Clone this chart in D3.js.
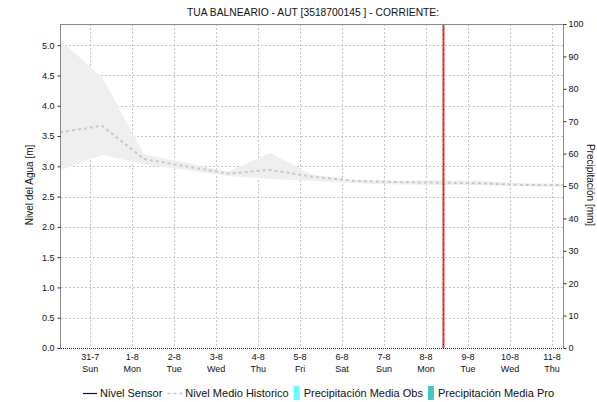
<!DOCTYPE html>
<html><head><meta charset="utf-8">
<script src="https://cdn.jsdelivr.net/npm/d3@7"></script>
<style>
html,body{margin:0;padding:0;background:#fff;overflow:hidden}
svg{display:block;font-family:"Liberation Sans",Arial,sans-serif}
</style></head><body>
<script>
// ---- data ----
const title = "TUA BALNEARIO - AUT [3518700145 ] - CORRIENTE:";
const pointTimes = ["2022-07-30T06:30","2022-07-31T06:30","2022-08-01T06:30","2022-08-02T06:30","2022-08-03T06:30","2022-08-04T06:30","2022-08-05T06:30","2022-08-06T06:30","2022-08-07T06:30","2022-08-08T06:30","2022-08-09T06:30","2022-08-10T06:30","2022-08-11T06:30"];
const nivelMedio = [3.56,3.67,3.12,3.00,2.88,2.94,2.83,2.76,2.74,2.73,2.72,2.69,2.69];
const nivelMax   = [5.08,4.47,3.20,3.06,2.91,3.22,2.86,2.78,2.76,2.77,2.76,2.72,2.71];
const nivelMin   = [2.93,3.19,3.03,2.94,2.84,2.79,2.76,2.72,2.70,2.69,2.69,2.67,2.66];
const dayTicks = ["2022-07-31","2022-08-01","2022-08-02","2022-08-03","2022-08-04","2022-08-05","2022-08-06","2022-08-07","2022-08-08","2022-08-09","2022-08-10","2022-08-11"];
const dayLabels = ["31-7","1-8","2-8","3-8","4-8","5-8","6-8","7-8","8-8","9-8","10-8","11-8"];
const weekdayLabels = ["Sun","Mon","Tue","Wed","Thu","Fri","Sat","Sun","Mon","Tue","Wed","Thu"];
const levelTicks = [0,0.5,1,1.5,2,2.5,3,3.5,4,4.5,5];
const precipTicks = [0,10,20,30,40,50,60,70,80,90,100];
const nowTime = "2022-08-08T09:40";
const xDomain = ["2022-07-30T07:00","2022-08-11T06:00"];
const levelDomain = [0,5.35];
const precipDomain = [0,100];
const legendItems = ["Nivel Sensor","Nivel Medio Historico","Precipitación Media Obs","Precipitación Media Pro"];

const W=597,H=402;
const m={l:61,r:563,t:24,b:348};
const svg=d3.select("body").append("svg").attr("width",W).attr("height",H);
const parse=s=>new Date(s);
const x=d3.scaleTime().domain(xDomain.map(parse)).range([m.l,m.r]);
const y=d3.scaleLinear().domain(levelDomain).range([m.b,m.t]);
const y2=d3.scaleLinear().domain(precipDomain).range([m.b,m.t]);

svg.append("defs").append("clipPath").attr("id","clip").append("rect")
  .attr("x",m.l).attr("y",m.t).attr("width",m.r-m.l).attr("height",m.b-m.t);

// grid
const grid=svg.append("g").attr("stroke","#c4c4c4").attr("stroke-dasharray","2,2").attr("stroke-width",1);
levelTicks.slice(1).forEach(v=>{
  grid.append("line").attr("x1",m.l).attr("x2",m.r).attr("y1",Math.round(y(v))+0.5).attr("y2",Math.round(y(v))+0.5);
});
dayTicks.forEach(d=>{
  const xx=Math.round(x(parse(d)))-0.5;
  grid.append("line").attr("x1",xx).attr("x2",xx).attr("y1",m.t).attr("y2",m.b);
});

const data=pointTimes.map((t,i)=>({t:parse(t),mean:nivelMedio[i],hi:nivelMax[i],lo:nivelMin[i]}));
const plot=svg.append("g").attr("clip-path","url(#clip)");
plot.append("path").datum(data)
  .attr("d",d3.area().x(d=>x(d.t)).y0(d=>y(d.lo)).y1(d=>y(d.hi)))
  .attr("fill","#efefef");
plot.append("path").datum(data)
  .attr("d",d3.line().x(d=>x(d.t)).y(d=>y(d.mean)))
  .attr("fill","none").attr("stroke","#c8c8c8").attr("stroke-width",2).attr("stroke-dasharray","3,3");

// now line
const nx=x(parse(nowTime));
svg.append("line").attr("x1",nx).attr("x2",nx).attr("y1",m.t).attr("y2",m.b)
  .attr("stroke","#e23a3a").attr("stroke-width",2);
svg.append("line").attr("x1",nx).attr("x2",nx).attr("y1",m.t).attr("y2",m.b)
  .attr("stroke","#7a1a1a").attr("stroke-width",1).attr("stroke-dasharray","1,4");

// frame
const frame="#8a8a8a";
svg.append("line").attr("x1",m.l-0.5).attr("x2",m.r+0.5).attr("y1",m.t+0.5).attr("y2",m.t+0.5).attr("stroke",frame);
// left axis
const ax=svg.append("g").attr("transform",`translate(${m.l-0.5},0)`)
  .call(d3.axisLeft(y).tickValues(levelTicks).tickFormat(d3.format(".1f")).tickSize(3).tickPadding(3));
ax.select(".domain").attr("stroke",frame).attr("d",`M0,${m.t}V${m.b}`);
ax.selectAll(".tick line").attr("stroke","#333");
ax.selectAll("text").attr("font-size","9px").attr("fill","#111").attr("font-family","Liberation Sans, Arial, sans-serif");
// right axis
const ar=svg.append("g").attr("transform",`translate(${m.r+0.5},0)`)
  .call(d3.axisRight(y2).tickValues(precipTicks).tickSize(3).tickPadding(2));
ar.select(".domain").attr("stroke",frame).attr("d",`M0,${m.t}V${m.b}`);
ar.selectAll(".tick line").attr("stroke","#333");
ar.selectAll("text").attr("font-size","9px").attr("fill","#111").attr("font-family","Liberation Sans, Arial, sans-serif");
// bottom axis dotted
svg.append("line").attr("x1",m.l).attr("x2",m.r).attr("y1",m.b+0.5).attr("y2",m.b+0.5)
  .attr("stroke","#222").attr("stroke-dasharray","1,1");
// x labels
const xl=svg.append("g").attr("font-size","9px").attr("fill","#111").attr("text-anchor","middle");
dayTicks.forEach((d,i)=>{
  const xx=x(parse(d))-0.5;
  xl.append("text").attr("x",xx).attr("y",360).text(dayLabels[i]);
  xl.append("text").attr("x",xx).attr("y",372).text(weekdayLabels[i]);
});

// title
svg.append("text").attr("x",313).attr("y",16).attr("text-anchor","middle")
  .attr("font-size","10.3px").attr("fill","#111").text(title);
// axis titles
svg.append("text").attr("transform","translate(33,185) rotate(-90)").attr("text-anchor","middle")
  .attr("font-size","10px").attr("fill","#111").text("Nivel del Agua [m]");
svg.append("text").attr("transform","translate(587,185) rotate(90)").attr("text-anchor","middle")
  .attr("font-size","10px").attr("fill","#111").text("Precipitación [mm]");

// legend
const lg=svg.append("g").attr("font-size","11px").attr("fill","#111");
let lx=83; const ly=393;
legendItems.forEach((name,i)=>{
  if(i===0){
    lg.append("line").attr("x1",lx).attr("x2",lx+14).attr("y1",ly+0.5).attr("y2",ly+0.5).attr("stroke","#0000cc").attr("stroke-width",1.2);
    lx+=17;
  } else if(i===1){
    lg.append("line").attr("x1",lx).attr("x2",lx+15).attr("y1",ly+0.5).attr("y2",ly+0.5).attr("stroke","#c8c8c8").attr("stroke-width",1.5).attr("stroke-dasharray","3,3");
    lx+=18;
  } else {
    lg.append("rect").attr("x",lx).attr("y",ly-7).attr("width",6).attr("height",14).attr("fill",i===2?"#66ffff":"#40c8c8");
    lx+=10;
  }
  const t=lg.append("text").attr("x",lx).attr("y",ly+4).text(name);
  lx+=t.node().getComputedTextLength()+5;
});
</script>
</body></html>
